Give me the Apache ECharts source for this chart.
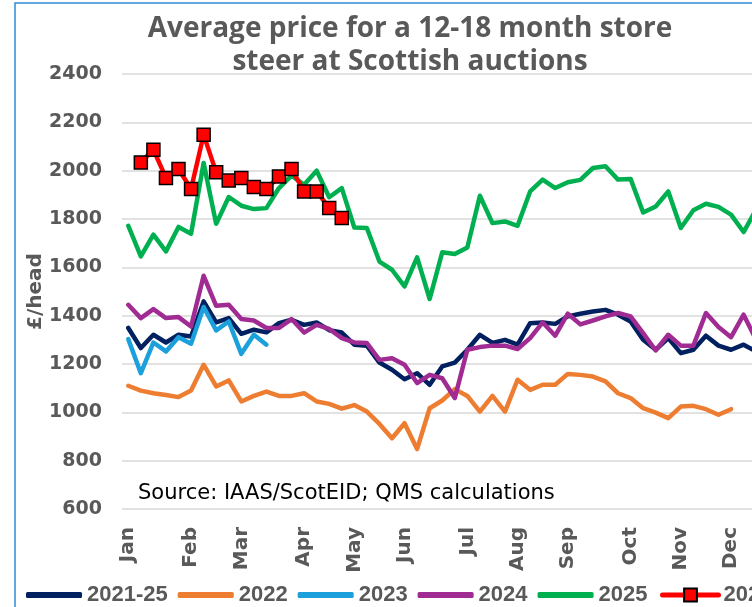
<!DOCTYPE html>
<html>
<head>
<meta charset="utf-8">
<script src="https://cdn.jsdelivr.net/npm/echarts@6/dist/echarts.min.js"></script>
<style>html,body{margin:0;padding:0;background:#fff}#c{width:752px;height:607px}</style>
</head>
<body>
<div id="c"></div>
<script>
// Week categories (52 weeks); month label shown at the first week of each month
const monthNames = ['Jan','Feb','Mar','Apr','May','Jun','Jul','Aug','Sep','Oct','Nov','Dec'];
const monthStartWeek = [0,5,9,14,18,22,27,31,35,40,44,48];
const weekCount = 52;

const s2021_25 = [1349,1266,1321,1289,1321,1314,1459,1372,1390,1325,1342,1331,1369,1383,1362,1372,1340,1330,1280,1276,1206,1176,1137,1162,1114,1190,1206,1259,1321,1287,1300,1280,1369,1372,1366,1397,1408,1417,1424,1404,1376,1300,1259,1307,1245,1259,1317,1276,1259,1280,1252,1265];
const s2022 = [1110,1090,1079,1072,1063,1090,1197,1107,1132,1045,1068,1086,1068,1068,1079,1045,1035,1015,1030,1003,952,893,955,848,1017,1049,1096,1068,1003,1068,1003,1135,1093,1114,1114,1159,1155,1148,1128,1079,1059,1017,999,976,1024,1027,1013,990,1013,null,null,null];
const s2023 = [1303,1162,1289,1252,1311,1284,1436,1339,1376,1242,1321,1280];
const s2024 = [1445,1390,1427,1390,1394,1355,1565,1441,1445,1386,1380,1349,1349,1386,1330,1362,1345,1307,1289,1287,1217,1224,1197,1121,1155,1141,1059,1259,1270,1276,1276,1262,1307,1372,1317,1408,1364,1380,1397,1411,1397,1328,1256,1321,1276,1276,1411,1353,1311,1404,1300,1320];
const s2025 = [1772,1645,1735,1666,1767,1739,2032,1780,1891,1855,1841,1845,1928,1979,1942,2000,1890,1928,1765,1763,1624,1590,1521,1641,1469,1662,1655,1682,1896,1783,1790,1772,1914,1963,1928,1952,1962,2011,2018,1963,1966,1827,1852,1914,1763,1836,1863,1850,1818,1746,1840,1850];
const s2026 = [null,2034,2087,1970,2007,1924,2149,1993,1959,1970,1932,1924,1976,2007,1914,1914,1846,1804];

const seriesNames = ['2021-25','2022','2023','2024','2025','2026'];
const yTicks = {min: 600, max: 2400, step: 200};

const categories = [];
for (let i = 0; i < weekCount; i++) {
  const m = monthStartWeek.indexOf(i);
  categories.push(m >= 0 ? monthNames[m] : '');
}

const gray = '#595959';
const lineBase = (name, data, color, extra) => Object.assign({
  name, type: 'line', data, symbol: 'none', smooth: false,
  lineStyle: {width: 4.5, color, cap: 'round', join: 'round'},
  itemStyle: {color}, emphasis: {disabled: true}, connectNulls: false
}, extra || {});

const chart = echarts.init(document.getElementById('c'), null, {renderer: 'canvas'});
chart.setOption({
  animation: false,
  backgroundColor: '#fff',
  title: {
    text: 'Average price for a 12-18 month store\nsteer at Scottish auctions',
    left: 405, top: 8, textAlign: 'center',
    textStyle: {fontFamily: 'Open Sans', fontWeight: 'bold', fontSize: 28, color: gray, lineHeight: 33}
  },
  graphic: [
    {type: 'rect', shape: {x: 15, y: 3, width: 900, height: 700}, style: {fill: 'none', stroke: '#2E8BD6', lineWidth: 1.5}, silent: true},
    {type: 'text', x: 138, y: 494, style: {text: 'Source: IAAS/ScotEID; QMS calculations', fontFamily: 'DejaVu Sans', fontSize: 21, fill: '#000', verticalAlign: 'middle'}, z: 10}
  ],
  legend: [
    {
      data: seriesNames.slice(0, 5), left: 26, top: 584, padding: 0,
      itemWidth: 56, itemHeight: 6, itemGap: 10, icon: 'roundRect',
      textStyle: {fontFamily: 'Liberation Sans', fontWeight: 'bold', fontSize: 22, color: gray}
    },
    {
      data: [seriesNames[5]], left: 660, top: 584, padding: 0,
      itemWidth: 56, itemHeight: 16,
      lineStyle: {width: 5},
      textStyle: {fontFamily: 'Liberation Sans', fontWeight: 'bold', fontSize: 22, color: gray}
    }
  ],
  grid: {left: 122, width: 653, top: 74, bottom: 98, outerBoundsMode: 'none'},
  xAxis: {
    type: 'category', data: categories, boundaryGap: true,
    axisLine: {show: false}, axisTick: {show: false},
    axisLabel: {interval: 0, rotate: 90, margin: 18, fontFamily: 'DejaVu Sans', fontWeight: 'bold', fontSize: 20, color: gray}
  },
  yAxis: {
    type: 'value', min: yTicks.min, max: yTicks.max, interval: yTicks.step,
    name: '£/head', nameLocation: 'middle', nameGap: 76, nameRotate: 90, nameMoveOverlap: false,
    nameTextStyle: {fontFamily: 'DejaVu Sans', fontWeight: 'bold', fontSize: 20, color: gray},
    axisLine: {show: false}, axisTick: {show: false},
    axisLabel: {margin: 20, fontFamily: 'DejaVu Sans', fontWeight: 'bold', fontSize: 19, color: gray, formatter: v => String(v)},
    splitLine: {lineStyle: {color: '#D9D9D9', width: 1.5}}
  },
  series: [
    lineBase(seriesNames[0], s2021_25, '#002060'),
    lineBase(seriesNames[1], s2022, '#ED7D31'),
    lineBase(seriesNames[2], s2023, '#1CA0DC'),
    lineBase(seriesNames[3], s2024, '#A02B93'),
    lineBase(seriesNames[4], s2025, '#00B050'),
    lineBase(seriesNames[5], s2026, '#FF0000', {
      symbol: 'rect', symbolSize: 13, showSymbol: true,
      itemStyle: {color: '#FF0000', borderColor: '#000', borderWidth: 1.5}
    })
  ]
});
</script>
</body>
</html>
